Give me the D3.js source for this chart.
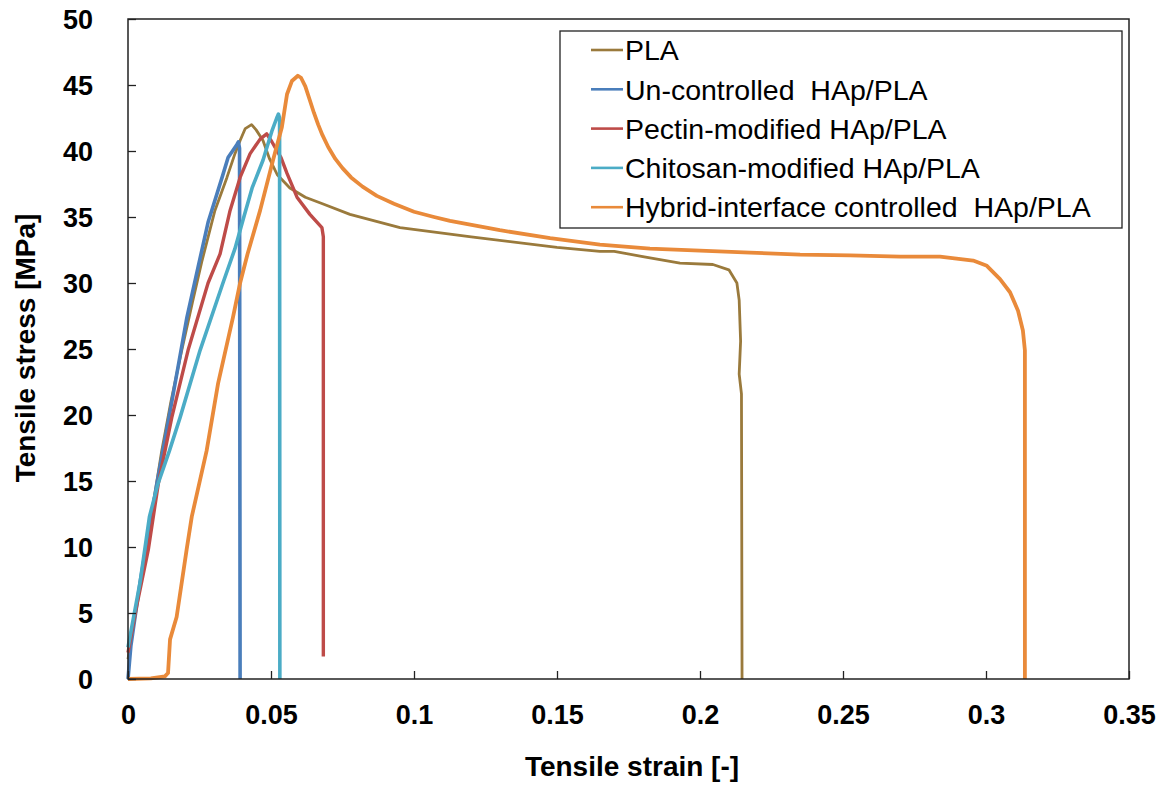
<!DOCTYPE html>
<html>
<head>
<meta charset="utf-8">
<script src="https://cdn.jsdelivr.net/npm/d3@7"></script>
<style>
  html, body { margin: 0; padding: 0; background: #fff; }
  svg { display: block; font-family: "Liberation Sans", Arial, sans-serif; }
</style>
</head>
<body>
<svg id="chart" width="1167" height="785"></svg>
<script>
// ---- data (strain [-], stress [MPa]) ----
const seriesNames = ["PLA", "Un-controlled  HAp/PLA", "Pectin-modified HAp/PLA", "Chitosan-modified HAp/PLA", "Hybrid-interface controlled  HAp/PLA"];
const seriesColors = ["#9A7A3C", "#4A7EBB", "#BE4B48", "#4BACC6", "#E98A3A"];

const strainPLA = [0, 0.002, 0.0045, 0.0065, 0.009, 0.0118, 0.015, 0.0188, 0.0225, 0.0259, 0.0304, 0.0346, 0.0374, 0.0392, 0.041, 0.0432, 0.0448, 0.0472, 0.0495, 0.0522, 0.0566, 0.062, 0.068, 0.0776, 0.0951, 0.12, 0.15, 0.165, 0.17, 0.18, 0.193, 0.2045, 0.2101, 0.2129, 0.2137, 0.2142, 0.2137, 0.2145, 0.2147];
const stressPLA = [1.5, 4.5, 7.5, 9.8, 13.5, 17.3, 21.0, 24.9, 28.5, 31.7, 35.5, 38.0, 39.8, 40.8, 41.7, 42.0, 41.6, 40.8, 39.4, 38.2, 37.2, 36.5, 36.0, 35.2, 34.2, 33.5, 32.7, 32.4, 32.4, 32.0, 31.5, 31.4, 31.0, 30.0, 28.7, 25.6, 23.1, 21.6, 0];

const strainUn = [0, 0.001, 0.0042, 0.0101, 0.0154, 0.0206, 0.0245, 0.028, 0.0329, 0.035, 0.0381, 0.0386, 0.039, 0.0392];
const stressUn = [0, 2.5, 7.3, 14.8, 21.1, 27.4, 31.2, 34.6, 38.0, 39.5, 40.5, 40.7, 40.2, 0];

const strainPectin = [0, 0.003, 0.0071, 0.0106, 0.0153, 0.021, 0.028, 0.0322, 0.0357, 0.0392, 0.0427, 0.0462, 0.0485, 0.0503, 0.0535, 0.0556, 0.0591, 0.0636, 0.0678, 0.0683, 0.0683];
const stressPectin = [2.0, 5.5, 9.8, 14.8, 19.8, 24.9, 30.0, 32.2, 35.5, 38.0, 39.8, 40.9, 41.3, 40.7, 39.5, 38.3, 36.5, 35.2, 34.2, 33.5, 1.7];

const strainChitosan = [0, 0.0042, 0.0075, 0.0105, 0.0145, 0.0182, 0.0252, 0.0332, 0.0374, 0.0405, 0.0434, 0.0472, 0.0503, 0.052, 0.0526, 0.053, 0.0531];
const stressChitosan = [2.4, 7.3, 12.3, 14.8, 17.3, 19.8, 24.9, 30.0, 32.6, 35.0, 37.2, 39.3, 41.5, 42.5, 42.8, 42.5, 0];

const strainHybrid = [0, 0.008, 0.0129, 0.014, 0.0147, 0.017, 0.0205, 0.0223, 0.0275, 0.0315, 0.0367, 0.0392, 0.0418, 0.0462, 0.0507, 0.0538, 0.0556, 0.0573, 0.0594, 0.0605, 0.062, 0.0635, 0.065, 0.0665, 0.068, 0.07, 0.0725, 0.075, 0.078, 0.082, 0.087, 0.093, 0.1, 0.107, 0.1126, 0.13, 0.1476, 0.165, 0.1825, 0.2, 0.2175, 0.235, 0.2525, 0.27, 0.2839, 0.2955, 0.3003, 0.3049, 0.3084, 0.3112, 0.3129, 0.3136, 0.3136];
const stressHybrid = [0, 0.05, 0.2, 0.45, 3.0, 4.7, 9.8, 12.3, 17.3, 22.4, 27.4, 30.0, 32.2, 35.5, 39.3, 41.8, 44.3, 45.3, 45.7, 45.55, 44.9, 43.9, 42.9, 42.0, 41.2, 40.3, 39.4, 38.7, 38.0, 37.3, 36.6, 36.0, 35.4, 35.0, 34.7, 34.0, 33.4, 32.9, 32.6, 32.45, 32.3, 32.15, 32.1, 32.0, 32.0, 31.7, 31.3, 30.3, 29.3, 27.9, 26.4, 24.9, 0];

const xTicks = [0, 0.05, 0.1, 0.15, 0.2, 0.25, 0.3, 0.35];
const yTicks = [0, 5, 10, 15, 20, 25, 30, 35, 40, 45, 50];
const xTitle = "Tensile strain [-]";
const yTitle = "Tensile stress [MPa]";

// ---- layout ----
const svg = d3.select("#chart");
const L = 128, R = 1129, T = 19, B = 679;
const x = d3.scaleLinear().domain([0, 0.35]).range([L, R]);
const y = d3.scaleLinear().domain([0, 50]).range([B, T]);

const series = [
  { xs: strainPLA, ys: stressPLA, w: 2.8 },
  { xs: strainUn, ys: stressUn, w: 3.6 },
  { xs: strainPectin, ys: stressPectin, w: 3.4 },
  { xs: strainChitosan, ys: stressChitosan, w: 3.6 },
  { xs: strainHybrid, ys: stressHybrid, w: 3.8 }
];

const line = d3.line().x(d => x(d[0])).y(d => y(d[1])).curve(d3.curveLinear);

series.forEach((s, i) => {
  const pts = s.xs.map((v, k) => [v, s.ys[k]]);
  svg.append("path")
    .attr("d", line(pts))
    .attr("fill", "none")
    .attr("stroke", seriesColors[i])
    .attr("stroke-width", s.w)
    .attr("stroke-linejoin", "round");
});

// axes with inward ticks
const xAxis = d3.axisBottom(x).tickValues(xTicks).tickSizeInner(-8).tickSizeOuter(0)
  .tickFormat(d => d === 0 ? "0" : String(+d.toFixed(2)));
const gx = svg.append("g").attr("transform", `translate(0,${B})`).call(xAxis);
gx.select(".domain").remove();
gx.selectAll(".tick line").attr("stroke", "#222").attr("stroke-width", 1.3);
gx.selectAll(".tick text").attr("y", 45).attr("dy", 0)
  .attr("font-size", 27).attr("font-weight", "bold").attr("fill", "#000")
  .attr("font-family", "Liberation Sans, Arial, sans-serif");

const yAxis = d3.axisLeft(y).tickValues(yTicks).tickSizeInner(-8).tickSizeOuter(0).tickFormat(d3.format("d"));
const gy = svg.append("g").attr("transform", `translate(${L},0)`).call(yAxis);
gy.select(".domain").remove();
gy.selectAll(".tick line").attr("stroke", "#222").attr("stroke-width", 1.3);
gy.selectAll(".tick text").attr("x", -35).attr("dy", "0.36em")
  .attr("font-size", 27).attr("font-weight", "bold").attr("fill", "#000")
  .attr("font-family", "Liberation Sans, Arial, sans-serif");

// plot frame
svg.append("rect").attr("x", L).attr("y", T).attr("width", R - L).attr("height", B - T)
  .attr("fill", "none").attr("stroke", "#222").attr("stroke-width", 1.5);

// axis titles
svg.append("text").attr("x", 632).attr("y", 776).attr("text-anchor", "middle")
  .attr("font-size", 28).attr("font-weight", "bold").text(xTitle);
svg.append("text").attr("transform", `translate(35,348) rotate(-90)`).attr("text-anchor", "middle")
  .attr("font-size", 28).attr("font-weight", "bold").text(yTitle);

// legend
const lg = svg.append("g");
lg.append("rect").attr("x", 560).attr("y", 31).attr("width", 562).attr("height", 197)
  .attr("fill", "#fff").attr("stroke", "#222").attr("stroke-width", 1.3);
seriesNames.forEach((name, i) => {
  const cy = 50 + i * 39.3;
  lg.append("line").attr("x1", 591).attr("x2", 623).attr("y1", cy).attr("y2", cy)
    .attr("stroke", seriesColors[i]).attr("stroke-width", 2.6);
  lg.append("text").attr("x", 625).attr("y", cy).attr("dy", "0.36em")
    .attr("font-size", 28.5).attr("fill", "#000")
    .style("white-space", "pre").text(name);
});
</script>
</body>
</html>
